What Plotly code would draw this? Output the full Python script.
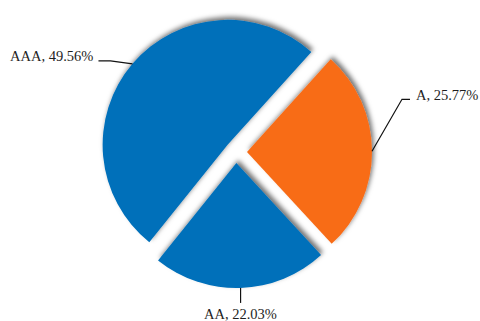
import math
import plotly.graph_objects as go

# Rating mix of the portfolio
ratings = ["AAA", "A", "AA"]
shares = [49.56, 25.77, 22.03]
colors = ["#0070BA", "#F86C18", "#0070BA"]

W, H = 480, 321
MARGIN = dict(l=50, r=58, t=16, b=33)
ROTATION = 218.8   # bearing (deg, clockwise from 12 o'clock) where the first slice starts
PULL = 0.088       # every slice is exploded by this fraction of the radius
FONT = dict(family="Liberation Serif, Times New Roman, serif", size=14.5, color="#1e1e1e")

fig = go.Figure(
    go.Pie(
        labels=ratings,
        values=shares,
        sort=False,
        direction="clockwise",
        rotation=ROTATION,
        pull=PULL,
        marker=dict(colors=colors, line=dict(width=0)),
        textinfo="none",
        hovertemplate="%{label}, %{value:.2f}%<extra></extra>",
        showlegend=False,
    )
)

# Pie geometry in pixels, following plotly's own layout rules for a full-domain pie
pw = W - MARGIN["l"] - MARGIN["r"]
ph = H - MARGIN["t"] - MARGIN["b"]
radius = min(pw, ph) / 2 / (1 + PULL)
cx = MARGIN["l"] + pw / 2
cy = MARGIN["t"] + ph / 2


def to_paper(px, py):
    return (px - MARGIN["l"]) / pw, 1 - (py - MARGIN["t"]) / ph


# Leader-line routes (pixel offsets from the slice's outer arc midpoint) and label anchors
routes = {
    "AAA": dict(path=[(-22, -3), (-34, -3)], text=(-37, -8), xanchor="right"),
    "A": dict(path=[(30, -52), (38, -52)], text=(42, -56), xanchor="left"),
    "AA": dict(path=[(0, 15)], text=(0, 26), xanchor="center"),
}

total = sum(shares)
cum = 0.0
shapes, annotations = [], []
for name, val in zip(ratings, shares):
    mid = math.radians(ROTATION + 360 * (cum + val / 2) / total)
    cum += val
    ax = cx + radius * (1 + PULL) * math.sin(mid)
    ay = cy - radius * (1 + PULL) * math.cos(mid)
    route = routes[name]
    pts = [(ax, ay)] + [(ax + dx, ay + dy) for dx, dy in route["path"]]
    pp = [to_paper(x, y) for x, y in pts]
    path = "M {:.5f} {:.5f} ".format(*pp[0]) + " ".join("L {:.5f} {:.5f}".format(*p) for p in pp[1:])
    shapes.append(dict(type="path", xref="paper", yref="paper", path=path,
                       line=dict(color="#111111", width=1.2)))
    tx, ty = to_paper(ax + route["text"][0], ay + route["text"][1])
    annotations.append(dict(x=tx, y=ty, xref="paper", yref="paper",
                            text=f"{name}, {val:.2f}%", showarrow=False,
                            xanchor=route["xanchor"], yanchor="middle", font=FONT))

fig.update_layout(
    width=W,
    height=H,
    margin=dict(MARGIN, pad=0, autoexpand=False),
    paper_bgcolor="white",
    plot_bgcolor="white",
    shapes=shapes,
    annotations=annotations,
)

# Soft drop shadow under each slice
shadow_js = """
var gd = document.getElementById('{plot_id}');
var svg = gd.querySelector('svg.main-svg');
var ns = 'http://www.w3.org/2000/svg';
var defs = svg.querySelector('defs') || svg.insertBefore(document.createElementNS(ns, 'defs'), svg.firstChild);
var f = document.createElementNS(ns, 'filter');
f.setAttribute('id', 'sliceShadow');
f.setAttribute('x', '-20%'); f.setAttribute('y', '-20%');
f.setAttribute('width', '140%'); f.setAttribute('height', '140%');
var ds = document.createElementNS(ns, 'feDropShadow');
ds.setAttribute('dx', '2'); ds.setAttribute('dy', '-3');
ds.setAttribute('stdDeviation', '2.5');
ds.setAttribute('flood-color', '#000000');
ds.setAttribute('flood-opacity', '0.55');
f.appendChild(ds);
defs.appendChild(f);
gd.querySelectorAll('g.slice path.surface').forEach(function(p) {
    p.setAttribute('filter', 'url(#sliceShadow)');
});
"""

fig.write_html("out.html", post_script=shadow_js, config=dict(displayModeBar=False))
